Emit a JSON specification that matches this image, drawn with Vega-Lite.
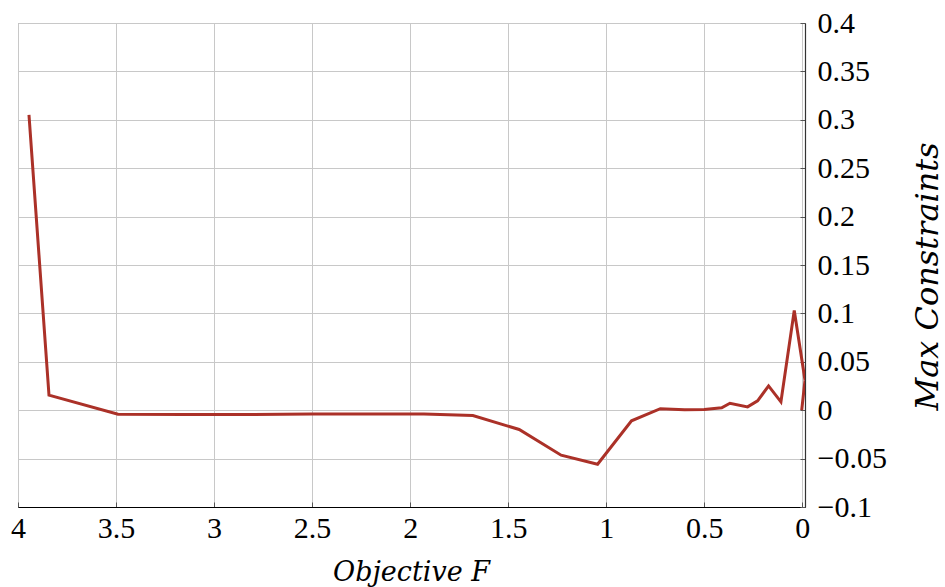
{
  "$schema": "https://vega.github.io/schema/vega-lite/v6.json",
  "width": 787,
  "height": 484,
  "autosize": "none",
  "padding": {"left": 18, "top": 23, "right": 140, "bottom": 80},
  "background": "white",
  "config": {
    "view": {"stroke": "#9a9a9a", "strokeWidth": 1},
    "font": "Liberation Serif"
  },
  "data": {
    "values": [
      {"i": 1, "F": 3.944, "c": 0.305},
      {"i": 2, "F": 3.842, "c": 0.0155},
      {"i": 3, "F": 3.49, "c": -0.0041},
      {"i": 4, "F": 3.15, "c": -0.0045},
      {"i": 5, "F": 2.8, "c": -0.0044},
      {"i": 6, "F": 2.5, "c": -0.004},
      {"i": 7, "F": 1.93, "c": -0.004},
      {"i": 8, "F": 1.68, "c": -0.0055},
      {"i": 9, "F": 1.444, "c": -0.0199},
      {"i": 10, "F": 1.23, "c": -0.0465},
      {"i": 11, "F": 1.044, "c": -0.0558},
      {"i": 12, "F": 0.871, "c": -0.011},
      {"i": 13, "F": 0.724, "c": 0.0016},
      {"i": 14, "F": 0.6, "c": 0.0005},
      {"i": 15, "F": 0.5, "c": 0.0008},
      {"i": 16, "F": 0.411, "c": 0.0025},
      {"i": 17, "F": 0.369, "c": 0.0072},
      {"i": 18, "F": 0.279, "c": 0.0034},
      {"i": 19, "F": 0.228, "c": 0.0096},
      {"i": 20, "F": 0.172, "c": 0.0251},
      {"i": 21, "F": 0.109, "c": 0.0086},
      {"i": 22, "F": 0.041, "c": 0.103},
      {"i": 23, "F": -0.0138, "c": 0.031},
      {"i": 24, "F": 0.003, "c": 0.0}
    ]
  },
  "mark": {"type": "line", "color": "#ab3128", "strokeWidth": 3, "clip": true},
  "encoding": {
    "order": {"field": "i", "type": "quantitative"},
    "x": {
      "field": "F",
      "type": "quantitative",
      "scale": {"domain": [-0.0138, 4], "reverse": true, "nice": false, "zero": false},
      "axis": {
        "title": "Objective F",
        "titleFont": "DejaVu Serif",
        "titleFontStyle": "italic",
        "titleFontWeight": "normal",
        "titleFontSize": 27,
        "titleColor": "#000",
        "titleX": 393,
        "titleY": 73,
        "titleAlign": "center",
        "titleBaseline": "alphabetic",
        "values": [0, 0.5, 1, 1.5, 2, 2.5, 3, 3.5, 4],
        "format": "~g",
        "labelFont": "Liberation Serif",
        "labelFontSize": 30,
        "labelColor": "#000",
        "labelPadding": 11,
        "labelFlush": false,
        "labelOverlap": false,
        "grid": true,
        "gridColor": "#c8c8c8",
        "gridWidth": 1,
        "ticks": true,
        "tickSize": -5,
        "tickColor": "#555",
        "tickWidth": 1,
        "domainColor": "#000",
        "domainWidth": 1.2
      }
    },
    "y": {
      "field": "c",
      "type": "quantitative",
      "scale": {"domain": [-0.1, 0.4], "nice": false, "zero": false},
      "axis": {
        "orient": "right",
        "title": "Max Constraints",
        "titleFont": "DejaVu Serif",
        "titleFontStyle": "italic",
        "titleFontWeight": "normal",
        "titleFontSize": 32,
        "titleColor": "#000",
        "titleAngle": 270,
        "titleX": 122,
        "titleY": 253,
        "titleAlign": "center",
        "titleBaseline": "middle",
        "values": [-0.1, -0.05, 0, 0.05, 0.1, 0.15, 0.2, 0.25, 0.3, 0.35, 0.4],
        "format": "~g",
        "labelFont": "Liberation Serif",
        "labelFontSize": 30,
        "labelColor": "#000",
        "labelPadding": 17,
        "labelFlush": false,
        "labelOverlap": false,
        "labelBaseline": "middle",
        "grid": true,
        "gridColor": "#c8c8c8",
        "gridWidth": 1,
        "ticks": true,
        "tickSize": -5,
        "tickColor": "#555",
        "tickWidth": 1,
        "domainColor": "#333",
        "domainWidth": 1.2
      }
    }
  }
}
